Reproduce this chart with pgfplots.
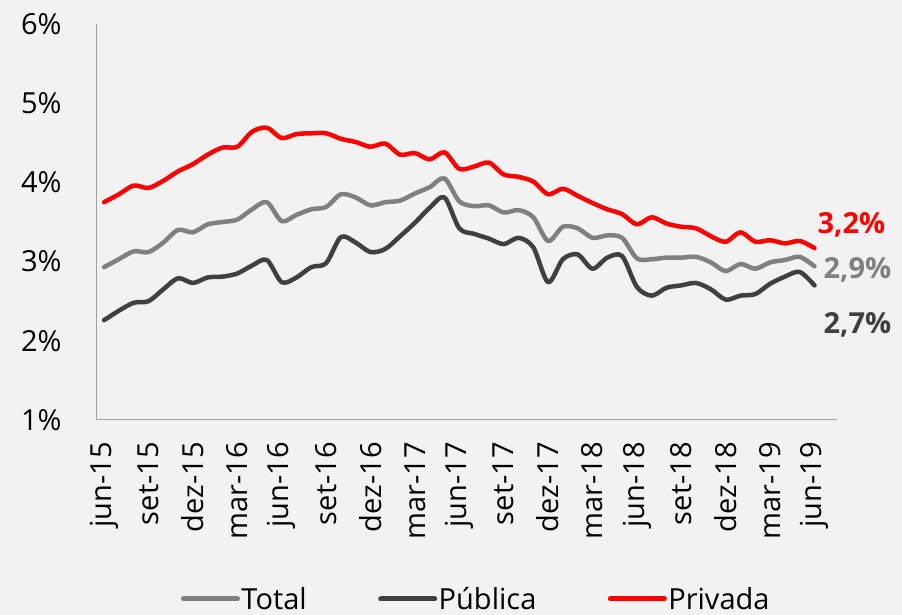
\documentclass[border=0pt]{standalone}
\usepackage{fontspec}
\setmainfont{Open Sans}
\usepackage{pgfplots}
\pgfplotsset{compat=1.18}
\usepackage{pgfplotstable}
\definecolor{bg}{HTML}{F2F2F2}
\definecolor{cTotal}{HTML}{808080}
\definecolor{cPub}{HTML}{404040}
\definecolor{cPriv}{HTML}{FF0000}
\definecolor{axgray}{HTML}{A0A0A0}

\pgfplotstableread{
i total publica privada
0 2.93 2.26 3.75
1 3.03 2.38 3.85
2 3.13 2.48 3.96
3 3.12 2.50 3.93
4 3.24 2.65 4.02
5 3.40 2.79 4.14
6 3.37 2.73 4.23
7 3.47 2.80 4.35
8 3.50 2.81 4.44
9 3.53 2.85 4.45
10 3.66 2.95 4.64
11 3.75 3.02 4.69
12 3.51 2.74 4.56
13 3.59 2.80 4.61
14 3.66 2.93 4.62
15 3.69 2.98 4.62
16 3.85 3.31 4.55
17 3.81 3.24 4.51
18 3.71 3.12 4.45
19 3.75 3.16 4.49
20 3.77 3.32 4.35
21 3.86 3.49 4.37
22 3.94 3.68 4.29
23 4.05 3.81 4.38
24 3.76 3.42 4.17
25 3.70 3.35 4.20
26 3.71 3.29 4.25
27 3.62 3.22 4.10
28 3.65 3.30 4.07
29 3.56 3.18 4.01
30 3.26 2.74 3.85
31 3.44 3.03 3.92
32 3.42 3.09 3.83
33 3.30 2.91 3.74
34 3.33 3.05 3.66
35 3.30 3.07 3.60
36 3.04 2.68 3.47
37 3.03 2.57 3.56
38 3.05 2.67 3.48
39 3.05 2.70 3.44
40 3.06 2.73 3.42
41 2.99 2.65 3.32
42 2.88 2.52 3.25
43 2.97 2.57 3.37
44 2.91 2.59 3.25
45 2.99 2.72 3.27
46 3.02 2.81 3.23
47 3.06 2.87 3.26
48 2.94 2.70 3.17
}\data

\begin{document}
\begin{tikzpicture}[x=1pt,y=1pt]
\useasboundingbox (0,0) rectangle (902,615);
\fill[bg] (0,0) rectangle (902,615);
\begin{axis}[
  at={(96.7pt,195pt)}, anchor=south west,
  scale only axis, width=740pt, height=396pt,
  xmin=-0.5, xmax=49.5, ymin=1, ymax=6,
  clip=false,
  axis lines*=left,
  axis line style={axgray, line width=1pt},
  major tick length=0pt,
  ytick={1,2,3,4,5,6},
  yticklabels={1\%,2\%,3\%,4\%,5\%,6\%},
  xtick={0,3,...,48},
  xticklabels={jun-15,set-15,dez-15,mar-16,jun-16,set-16,dez-16,mar-17,jun-17,set-17,dez-17,mar-18,jun-18,set-18,dez-18,mar-19,jun-19},
  tick label style={font=\fontsize{29}{34}\selectfont, text=black},
  xticklabel style={rotate=90, anchor=east, inner sep=0pt},
  yticklabel style={anchor=east, inner sep=0pt},
  xticklabel shift=22pt,
  yticklabel shift=35pt,
  legend columns=3,
  legend style={at={(0.5126,-0.452)}, anchor=center, draw=none, fill=none,
    font=\fontsize{29}{34}\selectfont,
    nodes={inner sep=1.5pt},
    /tikz/every even column/.append style={column sep=70pt}},
  legend image code/.code={\draw[#1, line width=5pt] (0pt,0pt) -- (54pt,0pt);},
  every axis plot/.append style={line width=4.5pt, smooth, tension=0.5, line cap=round, line join=round},
]
\addplot[cTotal] table[x=i, y=total] {\data};
\addlegendentry{Total}
\addplot[cPub] table[x=i, y=publica] {\data};
\addlegendentry{Pública}
\addplot[cPriv] table[x=i, y=privada] {\data};
\addlegendentry{Privada}
\node[anchor=west, inner sep=0pt, text=cPriv, font=\fontsize{29}{34}\selectfont\bfseries] at (axis cs:48.2,3.47) {3,2\%};
\node[anchor=west, inner sep=0pt, text=cTotal, font=\fontsize{29}{34}\selectfont\bfseries] at (axis cs:48.6,2.90) {2,9\%};
\node[anchor=west, inner sep=0pt, text=cPub, font=\fontsize{29}{34}\selectfont\bfseries] at (axis cs:48.6,2.20) {2,7\%};
\end{axis}
\end{tikzpicture}
\end{document}
